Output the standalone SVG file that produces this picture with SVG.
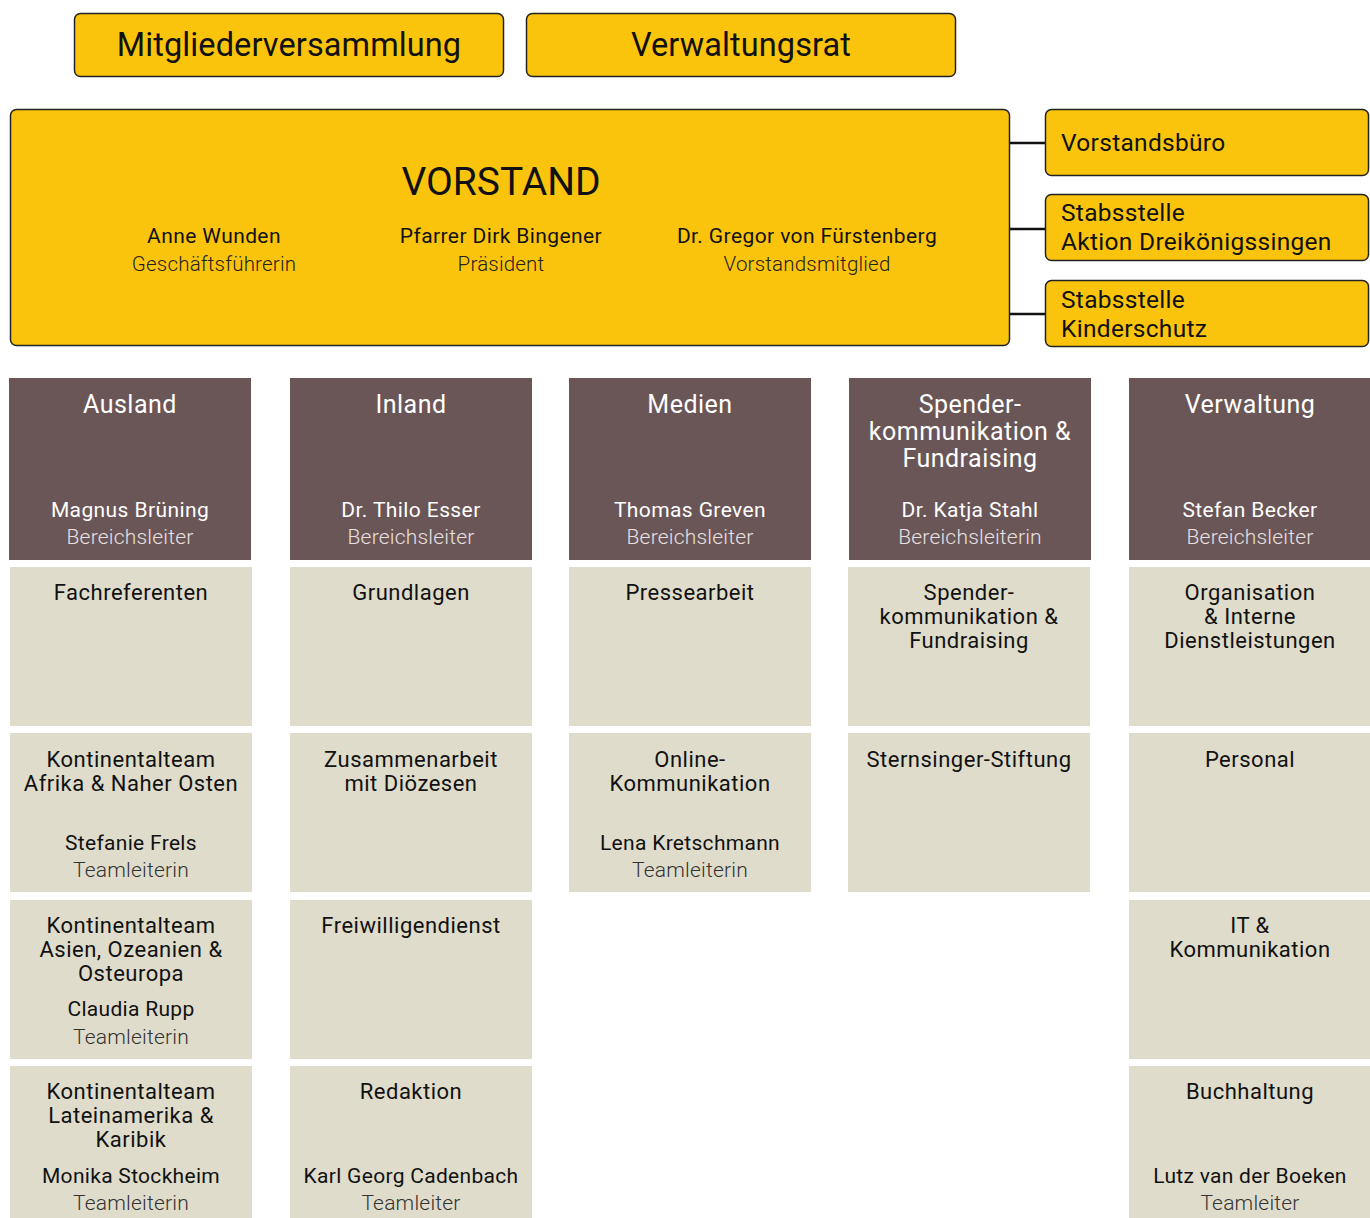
<svg xmlns="http://www.w3.org/2000/svg" width="1370" height="1218" viewBox="0 0 1370 1218">
<style>
text{font-family:Roboto,"Liberation Sans",sans-serif;}
.y{fill:#FBC40C;stroke:#222;stroke-width:1.5;}
.h{fill:#6A5657;}
.c{fill:#DFDCCB;}
.big{font-size:32.5px;fill:#111;text-anchor:middle;letter-spacing:0.1px;}
.vt{font-size:39px;fill:#111;text-anchor:middle;}
.vn{font-size:21px;fill:#111;text-anchor:middle;letter-spacing:0.4px;}
.vr{font-size:20.5px;fill:#222;text-anchor:middle;font-weight:300;letter-spacing:0.2px;}
.st{font-size:24.5px;fill:#111;letter-spacing:0.3px;}
.ht{font-size:25px;fill:#fff;text-anchor:middle;letter-spacing:0.5px;}
.hn{font-size:21px;fill:#fff;text-anchor:middle;letter-spacing:0.4px;}
.hr{font-size:21px;fill:#E8E0E0;text-anchor:middle;font-weight:300;letter-spacing:0.2px;}
.ct{font-size:22px;fill:#111;text-anchor:middle;letter-spacing:0.5px;}
.cn{font-size:21px;fill:#111;text-anchor:middle;letter-spacing:0.3px;}
.cr{font-size:21px;fill:#333;text-anchor:middle;font-weight:300;letter-spacing:0.2px;}
.ln{stroke:#111;stroke-width:2.5;}
</style>
<g id="connectors">
<line class="ln" x1="1010" y1="143" x2="1045" y2="143"/>
<line class="ln" x1="1010" y1="229" x2="1045" y2="229"/>
<line class="ln" x1="1010" y1="314" x2="1045" y2="314"/>
</g>
<g id="mitgliederversammlung"><rect class="y" x="74.5" y="13.5" width="429" height="63" rx="6"/><text class="big" x="289" y="56">Mitgliederversammlung</text></g>
<g id="verwaltungsrat"><rect class="y" x="526.5" y="13.5" width="429" height="63" rx="6"/><text class="big" x="741" y="56">Verwaltungsrat</text></g>
<g id="vorstand"><rect class="y" x="10.5" y="109.5" width="999" height="236" rx="6"/>
<text class="vt" x="501" y="195">VORSTAND</text>
<text class="vn" x="214" y="243">Anne Wunden</text><text class="vr" x="214" y="271">Geschäftsführerin</text>
<text class="vn" x="501" y="243">Pfarrer Dirk Bingener</text><text class="vr" x="501" y="271">Präsident</text>
<text class="vn" x="807" y="243">Dr. Gregor von Fürstenberg</text><text class="vr" x="807" y="271">Vorstandsmitglied</text>
</g>
<g id="vorstandsbuero"><rect class="y" x="1045.5" y="109.5" width="323" height="66" rx="6"/><text class="st" x="1061" y="151">Vorstandsbüro</text></g>
<g id="stabsstelle-dks"><rect class="y" x="1045.5" y="194.5" width="323" height="66" rx="6"/><text class="st" x="1061" y="221">Stabsstelle</text><text class="st" x="1061" y="250">Aktion Dreikönigssingen</text></g>
<g id="stabsstelle-kinderschutz"><rect class="y" x="1045.5" y="280.5" width="323" height="66" rx="6"/><text class="st" x="1061" y="308">Stabsstelle</text><text class="st" x="1061" y="337">Kinderschutz</text></g>

<g id="h-ausland"><rect class="h" x="9" y="378" width="242" height="182"/><text class="ht" x="130" y="413">Ausland</text><text class="hn" x="130" y="517">Magnus Brüning</text><text class="hr" x="130" y="544">Bereichsleiter</text></g>
<g id="h-inland"><rect class="h" x="290" y="378" width="242" height="182"/><text class="ht" x="411" y="413">Inland</text><text class="hn" x="411" y="517">Dr. Thilo Esser</text><text class="hr" x="411" y="544">Bereichsleiter</text></g>
<g id="h-medien"><rect class="h" x="569" y="378" width="242" height="182"/><text class="ht" x="690" y="413">Medien</text><text class="hn" x="690" y="517">Thomas Greven</text><text class="hr" x="690" y="544">Bereichsleiter</text></g>
<g id="h-spender"><rect class="h" x="849" y="378" width="242" height="182"/><text class="ht" x="970" y="413">Spender-</text><text class="ht" x="970" y="440">kommunikation &amp;</text><text class="ht" x="970" y="467">Fundraising</text><text class="hn" x="970" y="517">Dr. Katja Stahl</text><text class="hr" x="970" y="544">Bereichsleiterin</text></g>
<g id="h-verwaltung"><rect class="h" x="1129" y="378" width="241" height="182"/><text class="ht" x="1250" y="413">Verwaltung</text><text class="hn" x="1250" y="517">Stefan Becker</text><text class="hr" x="1250" y="544">Bereichsleiter</text></g>

<g id="c-fachreferenten"><rect class="c" x="10" y="567" width="242" height="159"/><text class="ct" x="131" y="600">Fachreferenten</text></g>
<g id="c-afrika"><rect class="c" x="10" y="733" width="242" height="159"/><text class="ct" x="131" y="767">Kontinentalteam</text><text class="ct" x="131" y="791">Afrika &amp; Naher Osten</text><text class="cn" x="131" y="850">Stefanie Frels</text><text class="cr" x="131" y="877">Teamleiterin</text></g>
<g id="c-asien"><rect class="c" x="10" y="900" width="242" height="159"/><text class="ct" x="131" y="933">Kontinentalteam</text><text class="ct" x="131" y="957">Asien, Ozeanien &amp;</text><text class="ct" x="131" y="981">Osteuropa</text><text class="cn" x="131" y="1016">Claudia Rupp</text><text class="cr" x="131" y="1044">Teamleiterin</text></g>
<g id="c-lateinamerika"><rect class="c" x="10" y="1066" width="242" height="159"/><text class="ct" x="131" y="1099">Kontinentalteam</text><text class="ct" x="131" y="1123">Lateinamerika &amp;</text><text class="ct" x="131" y="1147">Karibik</text><text class="cn" x="131" y="1183">Monika Stockheim</text><text class="cr" x="131" y="1210">Teamleiterin</text></g>

<g id="c-grundlagen"><rect class="c" x="290" y="567" width="242" height="159"/><text class="ct" x="411" y="600">Grundlagen</text></g>
<g id="c-dioezesen"><rect class="c" x="290" y="733" width="242" height="159"/><text class="ct" x="411" y="767">Zusammenarbeit</text><text class="ct" x="411" y="791">mit Diözesen</text></g>
<g id="c-freiwilligendienst"><rect class="c" x="290" y="900" width="242" height="159"/><text class="ct" x="411" y="933">Freiwilligendienst</text></g>
<g id="c-redaktion"><rect class="c" x="290" y="1066" width="242" height="159"/><text class="ct" x="411" y="1099">Redaktion</text><text class="cn" x="411" y="1183">Karl Georg Cadenbach</text><text class="cr" x="411" y="1210">Teamleiter</text></g>

<g id="c-pressearbeit"><rect class="c" x="569" y="567" width="242" height="159"/><text class="ct" x="690" y="600">Pressearbeit</text></g>
<g id="c-online"><rect class="c" x="569" y="733" width="242" height="159"/><text class="ct" x="690" y="767">Online-</text><text class="ct" x="690" y="791">Kommunikation</text><text class="cn" x="690" y="850">Lena Kretschmann</text><text class="cr" x="690" y="877">Teamleiterin</text></g>

<g id="c-spender"><rect class="c" x="848" y="567" width="242" height="159"/><text class="ct" x="969" y="600">Spender-</text><text class="ct" x="969" y="624">kommunikation &amp;</text><text class="ct" x="969" y="648">Fundraising</text></g>
<g id="c-stiftung"><rect class="c" x="848" y="733" width="242" height="159"/><text class="ct" x="969" y="767">Sternsinger-Stiftung</text></g>

<g id="c-organisation"><rect class="c" x="1129" y="567" width="241" height="159"/><text class="ct" x="1250" y="600">Organisation</text><text class="ct" x="1250" y="624">&amp; Interne</text><text class="ct" x="1250" y="648">Dienstleistungen</text></g>
<g id="c-personal"><rect class="c" x="1129" y="733" width="241" height="159"/><text class="ct" x="1250" y="767">Personal</text></g>
<g id="c-it"><rect class="c" x="1129" y="900" width="241" height="159"/><text class="ct" x="1250" y="933">IT &amp;</text><text class="ct" x="1250" y="957">Kommunikation</text></g>
<g id="c-buchhaltung"><rect class="c" x="1129" y="1066" width="241" height="159"/><text class="ct" x="1250" y="1099">Buchhaltung</text><text class="cn" x="1250" y="1183">Lutz van der Boeken</text><text class="cr" x="1250" y="1210">Teamleiter</text></g>
</svg>
